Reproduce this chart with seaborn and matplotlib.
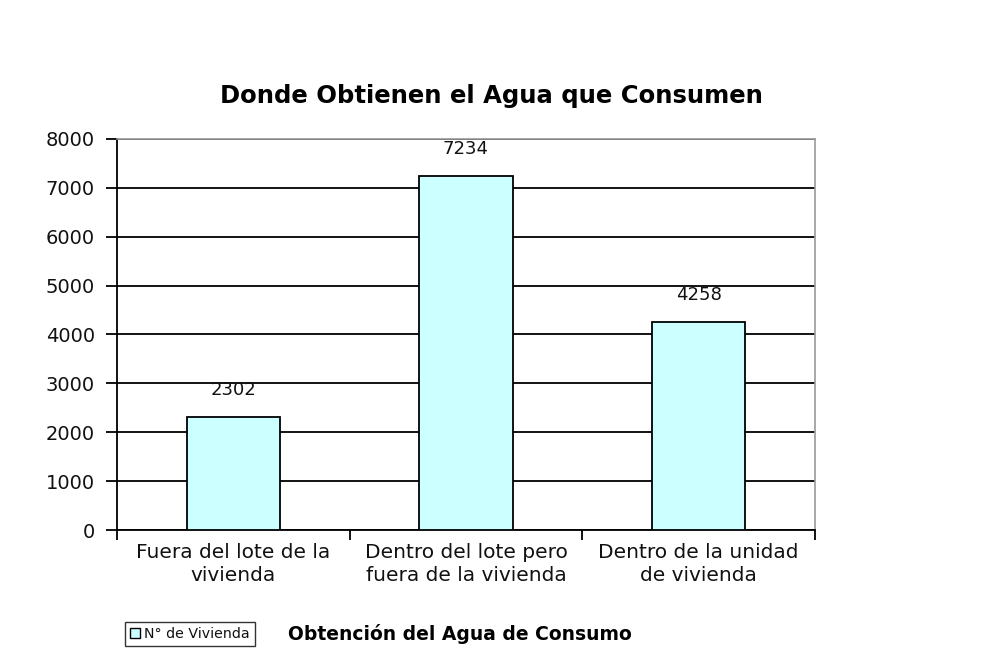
import matplotlib
matplotlib.use('Agg')
import matplotlib.pyplot as plt
import seaborn as sns
import pandas as pd
from matplotlib.patches import Patch

categorias = ["Fuera del lote de la\nvivienda",
              "Dentro del lote pero\nfuera de la vivienda",
              "Dentro de la unidad\nde vivienda"]
viviendas = [2302, 7234, 4258]
y_ticks = [0, 1000, 2000, 3000, 4000, 5000, 6000, 7000, 8000]

df = pd.DataFrame({"categoria": categorias, "viviendas": viviendas})

sns.set_style("white")
plt.rcParams['font.family'] = ['DejaVu Sans']
plt.rcParams['text.color'] = "#111111"

fig = plt.figure(figsize=(10.07, 6.54), dpi=100)
ax = fig.add_axes([117 / 1007, 1 - 530 / 654, 698 / 1007, 391 / 654])

sns.barplot(data=df, x="categoria", y="viviendas", color="#CCFFFF",
            edgecolor="black", linewidth=1.3, width=0.4, saturation=1, ax=ax, zorder=3)

ax.set_xlim(-0.5, 2.5)
ax.set_ylim(0, 8000)
ax.set_yticks(y_ticks)
ax.yaxis.grid(True, color="black", linewidth=1.3, zorder=0)
ax.set_axisbelow(True)

for side in ["top", "right"]:
    ax.spines[side].set_color("#999999")
    ax.spines[side].set_linewidth(1.2)
for side in ["left", "bottom"]:
    ax.spines[side].set_color("black")
    ax.spines[side].set_linewidth(1.3)

ax.tick_params(axis="y", length=8, width=1.3, color="black", labelsize=14, pad=8,
               left=True, labelcolor="#111111")
ax.set_xticks([0, 1, 2])
ax.set_xticklabels(categorias, fontsize=14.5, linespacing=1.3, color="#111111")
ax.tick_params(axis="x", length=0, pad=9)
ax.set_xticks([-0.5, 0.5, 1.5, 2.5], minor=True)
ax.tick_params(axis="x", which="minor", length=7, width=1.3, color="black", bottom=True)

ax.bar_label(ax.containers[0], labels=[str(v) for v in viviendas], padding=13,
             fontsize=13, color="#111111")

ax.set_ylabel("")
ax.set_xlabel("Obtención del Agua de Consumo", fontsize=13.5, fontweight="bold", color="black")
ax.xaxis.set_label_coords((460 - 117) / 698, -(634 - 530) / 391)
ax.xaxis.label.set_va("center")

fig.text(491 / 1007, 1 - 96 / 654, "Donde Obtienen el Agua que Consumen",
         ha="center", va="center", fontsize=17.5, fontweight="bold", color="black")

handle = Patch(facecolor="#CCFFFF", edgecolor="black", label="N° de Vivienda")
fig.legend(handles=[handle], loc="upper left", bbox_to_anchor=(125 / 1007, 1 - 622 / 654),
           frameon=True, fancybox=False, edgecolor="black", fontsize=10.2,
           handlelength=0.7, handleheight=0.7, handletextpad=0.3,
           borderpad=0.35, borderaxespad=0)

fig.savefig("out.png", dpi=100, facecolor="white")
